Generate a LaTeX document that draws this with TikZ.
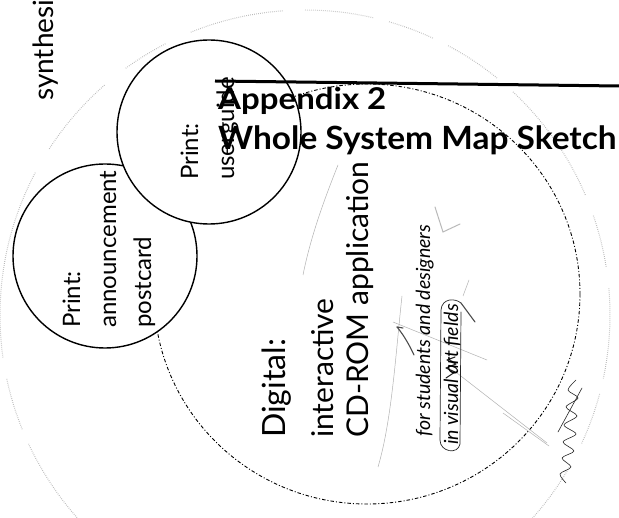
\documentclass[tikz,border=0pt]{standalone}
\usepackage{fontspec}
\setmainfont{Lato}
\begin{document}
\begin{tikzpicture}[x=1pt,y=-1pt,
  rt/.style={rotate=90,anchor=base west,inner sep=0pt},
  outerdot/.style={gray!55,line width=1pt,dash pattern=on 0.7pt off 1.3pt},
  digdash/.style={black,line width=0.9pt,dash pattern=on 3.5pt off 2pt on 1pt off 2pt},
  printcirc/.style={black,line width=1.4pt,fill=white},
  pencil/.style={gray!60,line width=0.5pt},
  darkpencil/.style={black!70,line width=1.1pt,line cap=round},
  ink/.style={black!85,line width=0.7pt,line cap=round,line join=round}]
\useasboundingbox (0,0) rectangle (619,518);
\fill[white] (0,0) rectangle (619,518);
\clip (0,0) rectangle (619,518);

% outer dotted circle, drawn in broken segments
\foreach \a/\b in {138/155,158/168,172/208,213/229,234/243,248/266,270/283,286/295,298/309,313/337,341/351,355/372,15/25,30/42}
  \draw[outerdot] plot[domain=\a:\b,samples=30,smooth] ({305+305*cos(\x)},{315+305*sin(\x)});

% digital circle
\draw[digdash] (367,294) ellipse [x radius=213, y radius=210];

% print circles
\filldraw[printcirc] (105,256) circle [radius=92];
\filldraw[printcirc] (209,132) circle [radius=92];

% pencil marks
\draw[pencil] (338,165) .. controls (322,205) and (310,240) .. (303,275);
\draw[pencil] (402,296) .. controls (396,350) and (392,420) .. (378,467);
\draw[pencil] (393,322) -- (487,360);
\draw[pencil] (457,373) -- (547,443);
\draw[pencil] (503,413) -- (549,446);
\draw[pencil] (463,296) -- (469,280);
\draw[gray!55,line width=1pt,line cap=round] (435,207) -- (443,232) -- (460,224);
\draw[darkpencil] (414,355) .. controls (408,342) and (402,333) .. (397,327);
\draw[darkpencil] (397,327) -- (403,328);

% loop round "in visual art fields"
\draw[ink] (461,303) .. controls (455,298) and (442,298) .. (441,310)
  -- (440,440) .. controls (440,452) and (458,455) .. (460,444)
  -- (461,312);
\draw[darkpencil] (461,303) -- (475,322);

% scribble over "art"
\draw[ink,line width=1.1pt] (446,378) -- (455,372) -- (446,368) -- (456,364) -- (447,360) -- (455,357);

% signature
\draw[ink,line width=0.6pt] plot[smooth] coordinates {(566,483) (560,474) (571,467) (562,458) (574,451) (563,442) (576,434) (564,425) (577,416) (566,407) (578,398) (568,390) (576,380)};
\draw[ink,line width=0.6pt] (558,432) -- (582,388);

% texts
\node[rt,font=\fontsize{28}{32}\selectfont] (syn) at (53,101) {synthesi};

\node[rt,font=\fontsize{24}{28}\selectfont] (ugp) at (198,180) {Print:};
\node[rt,font=\fontsize{24}{28}\selectfont] (ugt) at (234,180) {userguide};

\node[rt,font=\fontsize{24}{28}\selectfont] (pcp) at (80,328) {Print:};
\node[rt,font=\fontsize{24}{28}\selectfont] (pca) at (116,328) {announcement};
\node[rt,font=\fontsize{24}{28}\selectfont] (pcc) at (151,328) {postcard};

\node[rt,font=\fontsize{32}{36}\selectfont] (dg) at (285,438) {Digital:};
\node[rt,font=\fontsize{30}{34}\selectfont] (dgi) at (333,438) {interactive};
\node[rt,font=\fontsize{30}{34}\selectfont] (dgc) at (368,438) {CD-ROM application};

\node[rt,font=\fontsize{19.5}{22}\selectfont\itshape] (for) at (430,437) {for students and designers};
\node[rt,font=\fontsize{19.5}{22}\selectfont\itshape] (vis) at (458,445) {in visual art fields};

% title
\draw[line width=3pt] (215,81) -- (619,86);
\node[anchor=base west,inner sep=0pt,xscale=1.1,font=\fontsize{30}{34}\selectfont\bfseries] (t1) at (218,110) {Appendix 2};
\node[anchor=base west,inner sep=0pt,xscale=1.045,font=\fontsize{32}{36}\selectfont\bfseries] (t2) at (218,150) {Whole System Map Sketch};
\end{tikzpicture}
\end{document}
